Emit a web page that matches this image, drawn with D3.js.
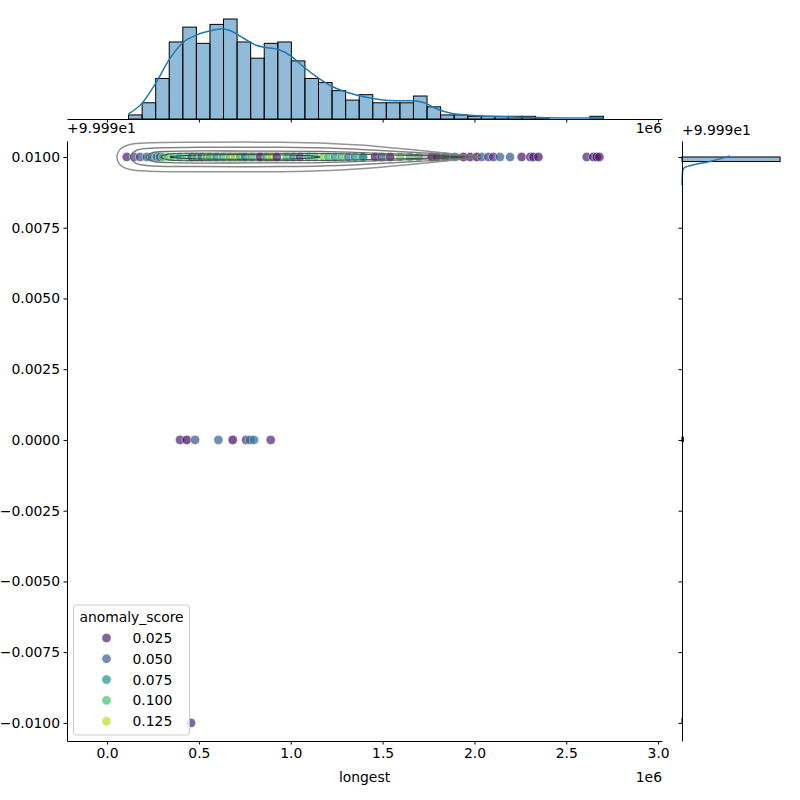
<!DOCTYPE html>
<html>
<head>
<meta charset="utf-8">
<script src="https://cdn.jsdelivr.net/npm/d3@7"></script>
<style>
  body { margin: 0; background: #fff; }
  text { font-family: "DejaVu Sans", sans-serif; font-size: 13.9px; fill: #000; }
</style>
</head>
<body>
<div id="chart"></div>
<script>
// ---- data (x in units of 1e6, y as offset from 99.99) ----
const xTicks = [0, 0.5, 1.0, 1.5, 2.0, 2.5, 3.0];
const xTickLabels = ["0.0", "0.5", "1.0", "1.5", "2.0", "2.5", "3.0"];
const yTicks = [0.01, 0.0075, 0.005, 0.0025, 0, -0.0025, -0.005, -0.0075, -0.01];
const yTickLabels = ["0.0100", "0.0075", "0.0050", "0.0025", "0.0000", "\u22120.0025", "\u22120.0050", "\u22120.0075", "\u22120.0100"];
const legendScores = [0.025, 0.05, 0.075, 0.1, 0.125];
const legendLabels = ["0.025", "0.050", "0.075", "0.100", "0.125"];

// top marginal histogram of "longest"
const histStart = 0.117;
const histBinWidth = 0.07386;
const histCounts = [3, 12, 30, 57, 68, 56, 70, 74, 57, 45, 56, 57, 43, 30, 27, 21, 14, 18,
  12, 12, 12, 17, 9, 3, 3, 2, 2, 2, 2, 2, 1, 0, 0, 0, 2];
const kdeTopX = [0.117, 0.191, 0.266, 0.340, 0.415, 0.489, 0.564, 0.627, 0.681, 0.744, 0.808,
  0.872, 0.936, 1.000, 1.064, 1.149, 1.234, 1.319, 1.404, 1.489, 1.574, 1.659, 1.723, 1.787,
  1.872, 1.978, 2.084, 2.297, 2.510, 2.701];
const kdeTopN = [3.75, 11.75, 26.75, 44.25, 56.75, 62.25, 65.25, 66.75, 64.75, 59.75, 54.75,
  52.75, 51.25, 46.75, 39.25, 30.5, 23.5, 19.25, 16.25, 14.25, 13.5, 13.5, 12.25, 8,
  4.25, 2.75, 2, 1.25, 0.75, 0.75];

// right marginal histogram of the y value
const rightBinLo = [-0.01, -0.00006, 0.00984];
const rightBinWidth = 0.00016;
const rightCounts = [1, 11, 807];
const kdeRightY = [0.0090, 0.00929, 0.00953, 0.00963, 0.00972, 0.00984, 0.01004];
const kdeRightN = [0, 2, 6, 25, 93, 230, 395];

// scatter points: row at +0.01
const topRowX = [0.107, 0.147, 0.180, 0.216, 0.243, 0.271, 0.289, 0.306, 0.334, 0.361, 0.397,
  0.434, 0.461, 0.488, 0.516, 0.543, 0.561, 0.597, 0.633, 0.670, 0.697, 0.724, 0.751, 0.788,
  0.833, 0.869, 0.897, 0.924, 0.978, 1.014, 1.051, 1.096, 1.132, 1.177, 1.205, 1.241, 1.278,
  1.314, 1.350, 1.387, 1.395, 1.459, 1.495, 1.541, 1.595, 1.649, 1.695, 1.768, 1.795, 1.840,
  1.894, 1.940, 1.976, 2.013, 2.040, 2.076, 2.103, 2.139, 2.194, 2.257, 2.303, 2.321, 2.348,
  2.611, 2.647, 2.666, 2.680];
const topRowScore = [0.025, 0.035, 0.04, 0.05, 0.06, 0.065, 0.045, 0.1, 0.105, 0.1, 0.09,
  0.105, 0.05, 0.1, 0.06, 0.115, 0.1, 0.08, 0.1, 0.105, 0.12, 0.1, 0.07, 0.1,
  0.02, 0.1, 0.125, 0.03, 0.1, 0.075, 0.04, 0.09, 0.1, 0.11, 0.1, 0.08, 0.1,
  0.065, 0.075, 0.095, 0.07, 0.02, 0.05, 0.02, 0.11, 0.1, 0.1, 0.02, 0.025, 0.07,
  0.075, 0.015, 0.02, 0.015, 0.05, 0.035, 0.03, 0.05, 0.045, 0.02, 0.025, 0.025, 0.02,
  0.025, 0.02, 0.015, 0.02];
// row at 0.0
const midRowX = [0.397, 0.434, 0.479, 0.606, 0.684, 0.757, 0.779, 0.800, 0.891];
const midRowScore = [0.025, 0.015, 0.045, 0.05, 0.015, 0.03, 0.055, 0.06, 0.025];
// row at -0.01
const lowRowX = [0.457];
const lowRowScore = [0.025];

// bivariate kde contour outlines: [x, half height], outermost first
const contourLevels = [
  [[0.054, 0], [0.074, 0.00029], [0.125, 0.00044], [0.234, 0.0005], [0.506, 0.00052], [0.942, 0.00052],
   [1.214, 0.00048], [1.377, 0.00042], [1.541, 0.00033], [1.704, 0.00023], [1.867, 0.00012], [1.990, 0.00004], [2.040, 0]],
  [[0.131, 0], [0.156, 0.00022], [0.234, 0.00031], [0.506, 0.00034], [0.942, 0.00034], [1.268, 0.0003],
   [1.486, 0.00023], [1.704, 0.00015], [1.867, 0.00008], [1.990, 0]],
  [[0.212, 0], [0.245, 0.00015], [0.343, 0.0002], [0.778, 0.00021], [1.160, 0.0002], [1.486, 0.00013],
   [1.758, 0.00007], [1.930, 0]],
  [[0.294, 0], [0.332, 0.0001], [0.506, 0.00013], [0.887, 0.00013], [1.214, 0.00012], [1.541, 0.00007],
   [1.813, 0.00003], [1.949, 0]],
  [[0.343, 0], [0.452, 0.00006], [0.778, 0.00008], [1.051, 0.00006], [1.160, 0]]
];
const contourColors = ["#808080", "#6e6e6e", "#5a5a5a", "#404040", "#202020"];
const contourWidths = [1.5, 1.5, 1.3, 1.1, 1.0];

// ---- layout ----
const W = 800, H = 800;
const main = { left: 67, right: 662, top: 141, bottom: 741 };
const topM = { top: 14, bottom: 119 };
const rightM = { left: 682, right: 785 };

const svg = d3.select("#chart").append("svg")
  .attr("width", W).attr("height", H);

const x = d3.scaleLinear().domain([-0.218, 3.021]).range([main.left, main.right]);
const y = d3.scaleLinear().domain([-0.01064, 0.010565]).range([main.bottom, main.top]);
const yTop = d3.scaleLinear().domain([0, d3.max(histCounts) * 1.05]).range([topM.bottom, topM.top]);
const xRight = d3.scaleLinear().domain([0, d3.max(rightCounts) * 1.05]).range([rightM.left, rightM.right]);
const color = s => d3.interpolateViridis((s - 0.0125) / 0.125);

const histBlue = "#1f77b4";

// ---- top marginal ----
const gTop = svg.append("g");
gTop.selectAll("rect.bar")
  .data(histCounts)
  .enter()
  .append("rect")
  .attr("class", "bar")
  .attr("x", (d, i) => x(histStart + i * histBinWidth))
  .attr("width", (d, i) => x(histStart + (i + 1) * histBinWidth) - x(histStart + i * histBinWidth))
  .attr("y", d => yTop(d))
  .attr("height", d => yTop(0) - yTop(d))
  .style("fill", histBlue)
  .style("fill-opacity", 0.5)
  .style("stroke", "#000")
  .style("stroke-width", 1);

gTop.append("path")
  .datum(d3.zip(kdeTopX, kdeTopN))
  .attr("d", d3.line().x(d => x(d[0])).y(d => yTop(d[1])).curve(d3.curveMonotoneX))
  .style("fill", "none")
  .style("stroke", histBlue)
  .style("stroke-width", 1.5);

gTop.append("g")
  .attr("transform", `translate(0,${topM.bottom})`)
  .call(d3.axisBottom(x).tickValues(xTicks).tickFormat("").tickSize(3.5).tickSizeOuter(0))
  .call(g => g.select(".domain").attr("stroke-width", 1));

gTop.append("text").attr("x", main.right).attr("y", 133).attr("text-anchor", "end").text("1e6");

// ---- main axes ----
const gMain = svg.append("g");

const xAxis = gMain.append("g")
  .attr("transform", `translate(0,${main.bottom})`)
  .call(d3.axisBottom(x).tickValues(xTicks).tickFormat((d, i) => xTickLabels[i]).tickSize(3.5).tickPadding(3.5).tickSizeOuter(0));
const yAxis = gMain.append("g")
  .attr("transform", `translate(${main.left},0)`)
  .call(d3.axisLeft(y).tickValues(yTicks).tickFormat((d, i) => yTickLabels[i]).tickSize(3.5).tickPadding(3.5).tickSizeOuter(0));
[xAxis, yAxis].forEach(a => {
  a.selectAll("text").style("font-size", "13.9px").style("font-family", "DejaVu Sans, sans-serif");
  a.select(".domain").attr("stroke-width", 1);
});

gMain.append("text").attr("x", (main.left + main.right) / 2).attr("y", 782)
  .attr("text-anchor", "middle").text("longest");
gMain.append("text").attr("x", main.right).attr("y", 782).attr("text-anchor", "end").text("1e6");
gMain.append("text").attr("x", main.left).attr("y", 133).text("+9.999e1");

// scatter
const points = [];
topRowX.forEach((v, i) => points.push({ x: v, y: 0.01, s: topRowScore[i] }));
midRowX.forEach((v, i) => points.push({ x: v, y: 0, s: midRowScore[i] }));
lowRowX.forEach((v, i) => points.push({ x: v, y: -0.01, s: lowRowScore[i] }));

gMain.selectAll("circle.pt")
  .data(points)
  .enter()
  .append("circle")
  .attr("class", "pt")
  .attr("cx", d => x(d.x))
  .attr("cy", d => y(d.y))
  .attr("r", 4.7)
  .style("fill", d => color(d.s))
  .style("stroke", "#fff")
  .style("stroke-width", 0.6)
  .style("opacity", 0.7);

// kde contours
const contourLine = d3.line().x(d => x(d[0])).y(d => y(d[1])).curve(d3.curveCatmullRomClosed.alpha(0.5));
contourLevels.forEach((lvl, k) => {
  const upper = lvl.map(p => [p[0], 0.01 + p[1]]);
  const lower = lvl.slice(1, -1).reverse().map(p => [p[0], 0.01 - p[1]]);
  gMain.append("path")
    .datum(upper.concat(lower))
    .attr("d", contourLine)
    .style("fill", "none")
    .style("stroke", contourColors[k])
    .style("stroke-width", contourWidths[k])
    .style("stroke-opacity", 0.85);
});

// legend
const lg = gMain.append("g").attr("transform", "translate(73.5,605)");
lg.append("rect")
  .attr("width", 116).attr("height", 130).attr("rx", 3)
  .style("fill", "#fff").style("fill-opacity", 0.8)
  .style("stroke", "#cccccc").style("stroke-width", 1);
lg.append("text").attr("x", 58).attr("y", 17).attr("text-anchor", "middle").text("anomaly_score");
const items = lg.selectAll("g.item")
  .data(legendScores)
  .enter()
  .append("g")
  .attr("class", "item")
  .attr("transform", (d, i) => `translate(0,${33 + i * 20.8})`);
items.append("circle")
  .attr("cx", 33).attr("cy", 0).attr("r", 4.7)
  .style("fill", d => color(d))
  .style("stroke", "#fff").style("stroke-width", 0.6)
  .style("opacity", 0.7);
items.append("text")
  .attr("x", 59).attr("y", 5)
  .text((d, i) => legendLabels[i]);

// ---- right marginal ----
const gRight = svg.append("g");
gRight.selectAll("rect.rbar")
  .data(rightCounts)
  .enter()
  .append("rect")
  .attr("class", "rbar")
  .attr("x", xRight(0))
  .attr("y", (d, i) => y(rightBinLo[i] + rightBinWidth))
  .attr("width", d => xRight(d) - xRight(0))
  .attr("height", (d, i) => y(rightBinLo[i]) - y(rightBinLo[i] + rightBinWidth))
  .style("fill", histBlue)
  .style("fill-opacity", 0.5)
  .style("stroke", "#000")
  .style("stroke-width", 1);

gRight.append("path")
  .datum(d3.zip(kdeRightY, kdeRightN))
  .attr("d", d3.line().x(d => xRight(d[1])).y(d => y(d[0])).curve(d3.curveMonotoneY))
  .style("fill", "none")
  .style("stroke", histBlue)
  .style("stroke-width", 1.5);

gRight.append("g")
  .attr("transform", `translate(${rightM.left},0)`)
  .call(d3.axisLeft(y).tickValues(yTicks).tickFormat("").tickSize(3.5).tickSizeOuter(0))
  .call(g => g.select(".domain").attr("stroke-width", 1));

gRight.append("text").attr("x", rightM.left).attr("y", 135).text("+9.999e1");
</script>
</body>
</html>
